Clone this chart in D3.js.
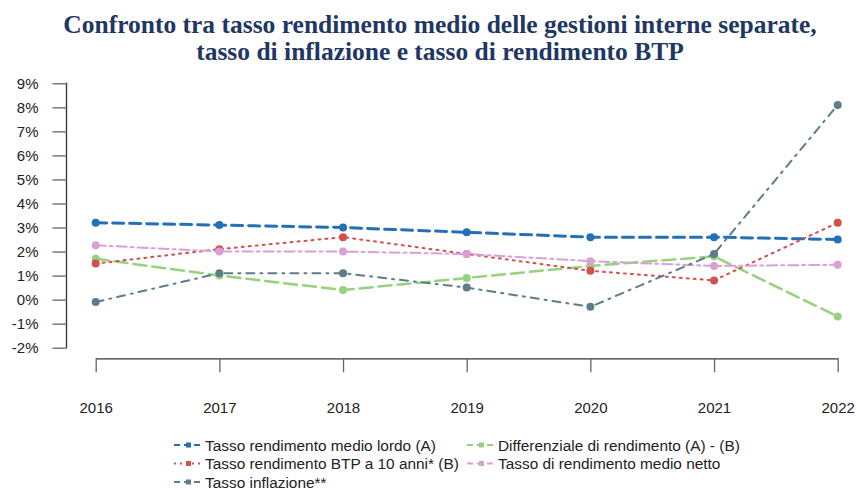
<!DOCTYPE html>
<html>
<head>
<meta charset="utf-8">
<script src="https://cdn.jsdelivr.net/npm/d3@7"></script>
<style>
  body { margin: 0; background: #fff; }
  svg { display: block; }
</style>
</head>
<body>
<div id="grafico"></div>
<script>
// dati
const anni = [2016, 2017, 2018, 2019, 2020, 2021, 2022]
const lordo = [3.2, 3.1, 3.0, 2.8, 2.6, 2.6, 2.5]
const btp = [1.5, 2.1, 2.6, 1.9, 1.2, 0.8, 3.2]
const differenziale = [1.7, 1.0, 0.4, 0.9, 1.4, 1.8, -0.7]
const netto = [2.26, 2.0, 2.0, 1.9, 1.6, 1.4, 1.45]
const inflazione = [-0.1, 1.1, 1.1, 0.5, -0.3, 1.9, 8.1]
const yTicks = [-2, -1, 0, 1, 2, 3, 4, 5, 6, 7, 8, 9]

const titolo = [
  "Confronto tra tasso rendimento medio delle gestioni interne separate,",
  "tasso di inflazione e tasso di rendimento BTP"
]

const serie = [
  { nome: "Tasso rendimento medio lordo (A)", valori: lordo, colore: "#2470b8", dash: "11,6", w: 3 },
  { nome: "Differenziale di rendimento (A) - (B)", valori: differenziale, colore: "#96d27e", dash: "13,6", w: 2.5 },
  { nome: "Tasso rendimento BTP a 10 anni* (B)", valori: btp, colore: "#d4504c", dash: "2,5", w: 2 },
  { nome: "Tasso di rendimento medio netto", valori: netto, colore: "#d9a0d6", dash: "10,4,3,4", w: 2 },
  { nome: "Tasso inflazione**", valori: inflazione, colore: "#5e7c89", dash: "8,6,2,6", w: 2 }
]

const sirina = 856, visina = 490

const svg = d3.select("#grafico").append("svg")
  .attr("width", sirina)
  .attr("height", visina)

// titolo
svg.append("g").selectAll("text")
  .data(titolo)
  .join("text")
  .attr("x", 440)
  .attr("y", (d, i) => 33 + i * 27)
  .attr("text-anchor", "middle")
  .attr("font-family", "'Liberation Serif', 'DejaVu Serif', serif")
  .attr("font-weight", "bold")
  .attr("font-size", 25.5)
  .attr("fill", "#1f3763")
  .text(d => d)

// scale
const xScala = d3.scalePoint()
  .domain(anni)
  .range([95.7, 837.7])

const yScala = d3.scaleLinear()
  .domain([-2, 9])
  .range([347.7, 83.3])

// asse y
const yOs = svg.append("g")
  .attr("transform", "translate(66.5,0)")
  .call(d3.axisLeft(yScala).tickValues(yTicks).tickSize(14).tickPadding(14).tickFormat(d => d + "%"))
yOs.select(".domain").attr("stroke", "#333").attr("stroke-width", 1.3)
  .attr("d", `M-0.5,${yScala(-2)}H0V${yScala(9)}H-0.5`)
yOs.selectAll(".tick line").attr("stroke", "#666").attr("stroke-width", 1.3)
yOs.selectAll(".tick text")
  .attr("font-family", "'Liberation Sans', Arial, sans-serif")
  .attr("font-size", 15)
  .attr("fill", "#222")

// asse x
const xOs = svg.append("g")
  .attr("transform", "translate(0,358.3)")
  .call(d3.axisBottom(xScala).tickSize(14).tickPadding(30).tickSizeOuter(0))
xOs.select(".domain").attr("stroke", "#333").attr("stroke-width", 1.3)
xOs.selectAll(".tick line").attr("stroke", "#666").attr("stroke-width", 1.3)
xOs.selectAll(".tick text")
  .attr("font-family", "'Liberation Sans', Arial, sans-serif")
  .attr("font-size", 15)
  .attr("fill", "#222")

// linee
const linija = d3.line()
  .x((d, i) => xScala(anni[i]))
  .y(d => yScala(d))

const grupe = svg.append("g").selectAll("g")
  .data(serie)
  .join("g")

grupe.append("path")
  .attr("d", d => linija(d.valori))
  .attr("fill", "none")
  .attr("stroke", d => d.colore)
  .attr("stroke-width", d => d.w)
  .attr("stroke-dasharray", d => d.dash)
  .attr("stroke-linecap", "round")

grupe.each(function(s) {
  d3.select(this).selectAll("circle")
    .data(s.valori)
    .join("circle")
    .attr("cx", (d, i) => xScala(anni[i]))
    .attr("cy", d => yScala(d))
    .attr("r", 4)
    .attr("fill", s.colore)
})

// legenda
const legendaPoz = [
  { x: 174, y: 445 }, { x: 467, y: 445 },
  { x: 174, y: 463.5 }, { x: 467, y: 463.5 },
  { x: 174, y: 482 }
]

const legenda = svg.append("g").selectAll("g")
  .data(serie)
  .join("g")
  .attr("transform", (d, i) => `translate(${legendaPoz[i].x},${legendaPoz[i].y})`)

legenda.append("line")
  .attr("x1", 0).attr("x2", 29)
  .attr("y1", 0).attr("y2", 0)
  .attr("stroke", d => d.colore)
  .attr("stroke-width", 2)
  .attr("stroke-dasharray", d => d.dash === "2,5" ? "2,4" : "6,4")

legenda.append("rect")
  .attr("x", 12).attr("y", -2.5)
  .attr("width", 5).attr("height", 5)
  .attr("fill", d => d.colore)

legenda.append("text")
  .attr("x", 31)
  .attr("y", 5.5)
  .attr("font-family", "'Liberation Sans', Arial, sans-serif")
  .attr("font-size", 15.4)
  .attr("fill", "#222")
  .text(d => d.nome)
</script>
</body>
</html>
